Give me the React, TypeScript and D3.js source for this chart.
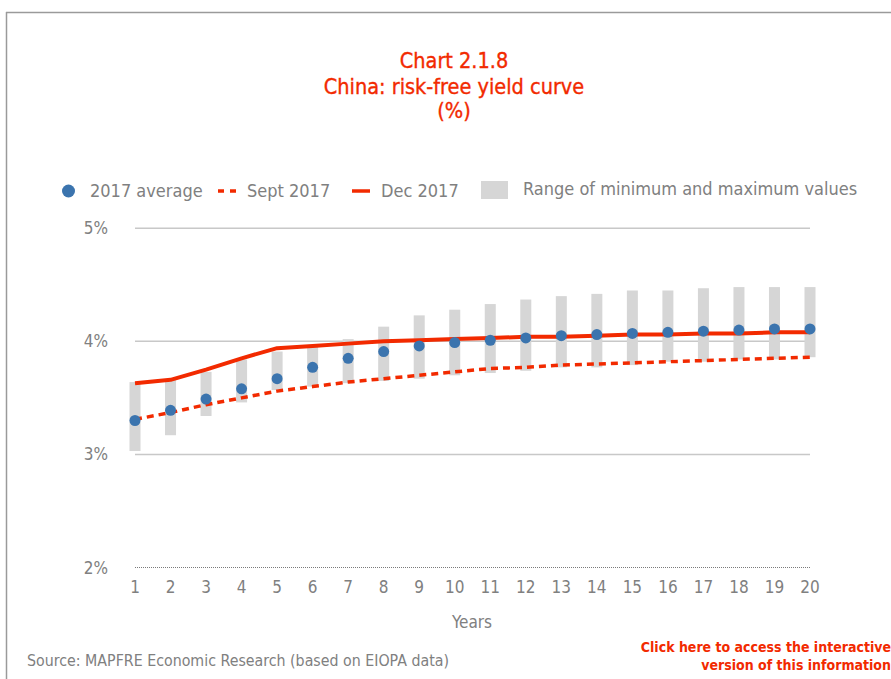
import React from "react";
import * as d3 from "d3";

const years = [1, 2, 3, 4, 5, 6, 7, 8, 9, 10, 11, 12, 13, 14, 15, 16, 17, 18, 19, 20];
const avg2017 = [3.30, 3.39, 3.49, 3.58, 3.67, 3.77, 3.85, 3.91, 3.96, 3.99, 4.01, 4.03, 4.05, 4.06, 4.07, 4.08, 4.09, 4.10, 4.11, 4.11];
const sept2017 = [3.31, 3.37, 3.44, 3.50, 3.56, 3.60, 3.64, 3.67, 3.70, 3.73, 3.76, 3.77, 3.79, 3.80, 3.81, 3.82, 3.83, 3.84, 3.85, 3.86];
const dec2017 = [3.63, 3.66, 3.75, 3.85, 3.94, 3.96, 3.98, 4.00, 4.01, 4.02, 4.03, 4.04, 4.04, 4.05, 4.06, 4.06, 4.07, 4.07, 4.08, 4.08];
const rangeMin = [3.03, 3.17, 3.34, 3.46, 3.57, 3.60, 3.63, 3.65, 3.67, 3.70, 3.72, 3.74, 3.77, 3.77, 3.79, 3.82, 3.82, 3.84, 3.84, 3.86];
const rangeMax = [3.64, 3.66, 3.73, 3.84, 3.91, 3.95, 4.02, 4.13, 4.23, 4.28, 4.33, 4.37, 4.40, 4.42, 4.45, 4.45, 4.47, 4.48, 4.48, 4.48];
const yTicks = [2, 3, 4, 5];

const RED = "#f22a00";
const BLUE = "#3b74ae";
const BAR = "#d6d6d6";
const GRID = "#c8c8c8";
const TXT = "#808080";
const FONT = "'DejaVu Sans Condensed', 'Liberation Sans Narrow', Roboto, sans-serif";

export default function App() {
  const W = 891, H = 679;
  const x = d3.scalePoint<number>().domain(years).range([135, 810]);
  const y = d3.scaleLinear().domain([2, 5]).range([567.5, 228.3]);
  const sept = d3.line<number>().x((_, i) => x(years[i])!).y((d) => y(d));
  const dec = d3.line<number>().x((_, i) => x(years[i])!).y((d) => y(d));
  const barW = 11;

  return (
    <svg width={W} height={H} style={{ position: "absolute", left: 0, top: 0, background: "#fff" }} fontFamily={FONT}>
      {/* frame */}
      <line x1={6.5} y1={12} x2={6.5} y2={H} stroke="#9a9a9a" strokeWidth={1.5} />
      <line x1={6} y1={12.5} x2={W} y2={12.5} stroke="#9a9a9a" strokeWidth={1.5} />

      {/* title */}
      <g fill={RED} textAnchor="middle" fontSize={21.5} stroke={RED} strokeWidth={0.35}>
        <text x={454} y={68}>Chart 2.1.8</text>
        <text x={454} y={94}>China: risk-free yield curve</text>
        <text x={454} y={118}>(%)</text>
      </g>

      {/* legend */}
      <g fontSize={18} fill={TXT}>
        <circle cx={68.5} cy={191} r={6.5} fill={BLUE} />
        <text x={90} y={197}>2017 average</text>
        <line x1={218} y1={191} x2={242} y2={191} stroke={RED} strokeWidth={3.5} strokeDasharray="6,6" />
        <text x={247} y={197}>Sept 2017</text>
        <line x1={352} y1={191} x2={370} y2={191} stroke={RED} strokeWidth={3.5} />
        <text x={381} y={197}>Dec 2017</text>
        <rect x={481} y={181} width={27} height={18} fill={BAR} />
        <text x={523} y={195}>Range of minimum and maximum values</text>
      </g>

      {/* gridlines */}
      {yTicks.map((t) => (
        <g key={t}>
          <line
            x1={x(1)}
            x2={x(20)}
            y1={y(t)}
            y2={y(t)}
            stroke={t === 2 ? "#7a7a7a" : GRID}
            strokeWidth={t === 2 ? 1 : 1.5}
            strokeDasharray={t === 2 ? "1,1" : undefined}
          />
          <text x={108} y={y(t) + 6} textAnchor="end" fontSize={17} fill={TXT}>
            {t}%
          </text>
        </g>
      ))}

      {/* range bars */}
      {years.map((yr, i) => (
        <rect
          key={yr}
          x={x(yr)! - barW / 2}
          y={y(rangeMax[i])}
          width={barW}
          height={y(rangeMin[i]) - y(rangeMax[i])}
          fill={BAR}
        />
      ))}

      {/* lines */}
      <path d={sept(sept2017)!} fill="none" stroke={RED} strokeWidth={3.5} strokeDasharray="7,5" />
      <path d={dec(dec2017)!} fill="none" stroke={RED} strokeWidth={4} strokeLinejoin="round" />

      {/* dots */}
      {years.map((yr, i) => (
        <circle key={yr} cx={x(yr)!} cy={y(avg2017[i])} r={5.5} fill={BLUE} />
      ))}

      {/* x labels */}
      <g fontSize={17} fill={TXT} textAnchor="middle">
        {years.map((yr) => (
          <text key={yr} x={x(yr)!} y={593}>
            {yr}
          </text>
        ))}
        <text x={472} y={628}>Years</text>
      </g>

      {/* footer */}
      <text x={27} y={666} fontSize={15.8} fill={TXT}>
        Source: MAPFRE Economic Research (based on EIOPA data)
      </text>
      <g fill={RED} fontSize={14} fontWeight="bold" textAnchor="end">
        <text x={891} y={652}>Click here to access the interactive</text>
        <text x={891} y={670}>version of this information</text>
      </g>
    </svg>
  );
}
